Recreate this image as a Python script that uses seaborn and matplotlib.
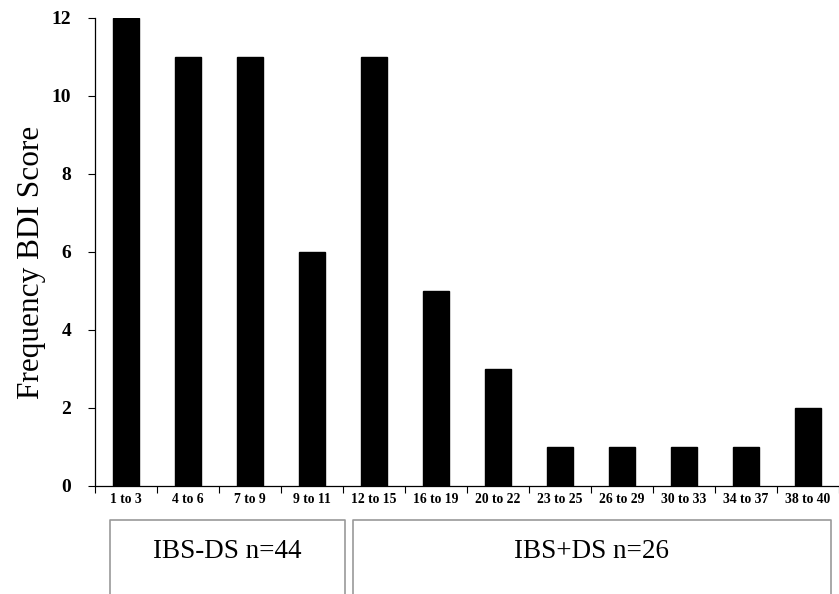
import matplotlib
matplotlib.use("Agg")
import matplotlib.pyplot as plt
import seaborn as sns
import pandas as pd
import numpy as np

categories = ["1 to 3", "4 to 6", "7 to 9", "9 to 11", "12 to 15", "16 to 19",
              "20 to 22", "23 to 25", "26 to 29", "30 to 33", "34 to 37", "38 to 40"]
frequency = [12, 11, 11, 6, 11, 5, 3, 1, 1, 1, 1, 2]
group_labels = ["IBS-DS n=44", "IBS+DS n=26"]
y_ticks = [0, 2, 4, 6, 8, 10, 12]

df = pd.DataFrame({"BDI": categories, "Frequency": frequency})

sns.set_theme(style="white")
plt.rcParams["font.family"] = ["Liberation Serif", "DejaVu Serif"]
plt.rcParams["text.color"] = "black"
plt.rcParams["axes.labelcolor"] = "black"
plt.rcParams["xtick.color"] = "black"
plt.rcParams["ytick.color"] = "black"

W, H = 839, 594
fig = plt.figure(figsize=(W / 100, H / 100), dpi=100)
ax = fig.add_axes([95 / W, 1 - 486 / H, (839 - 95) / W, (486 - 18) / H])

sns.barplot(data=df, x="BDI", y="Frequency", color="black", width=0.43,
            saturation=1, ax=ax, edgecolor="black")

ax.set_xlim(-0.5, len(categories) - 0.5)
ax.set_ylim(0, 12)
ax.set_yticks(y_ticks)
ax.set_yticklabels([str(t) for t in y_ticks], fontsize=14, fontweight="bold")
ax.set_xticks(range(len(categories)))
ax.set_xticklabels(categories, fontsize=9.8, fontweight="bold")
ax.set_xticks(np.arange(-0.5, len(categories), 1.0), minor=True)
ax.tick_params(axis="x", which="major", length=0, pad=5)
ax.tick_params(axis="x", which="minor", length=5, width=0.8, color="black", direction="out", bottom=True)
ax.tick_params(axis="y", which="major", length=5, width=0.8, color="black", direction="out", left=True, pad=12)
ax.set_xlabel("")
ax.set_ylabel("Frequency BDI Score", fontsize=22.5)
ax.yaxis.label.set_va("center")
ax.yaxis.label.set_ha("center")
ax.yaxis.set_label_coords(-0.086, 0.478)

for s in ["top", "right"]:
    ax.spines[s].set_visible(False)
for s in ["left", "bottom"]:
    ax.spines[s].set_color("black")
    ax.spines[s].set_linewidth(0.9)

boxes = [(110, 345), (353, 831)]
top = 520
for (x0, x1), lab in zip(boxes, group_labels):
    fig.add_artist(plt.Line2D([x0 / W, x0 / W, x1 / W, x1 / W],
                              [0, 1 - top / H, 1 - top / H, 0],
                              transform=fig.transFigure, color="#999999", lw=1.2))
    fig.text((x0 + x1) / 2 / W, 1 - 551 / H, lab, ha="center", va="center", fontsize=19.5)

fig.savefig("out.png", dpi=100)
